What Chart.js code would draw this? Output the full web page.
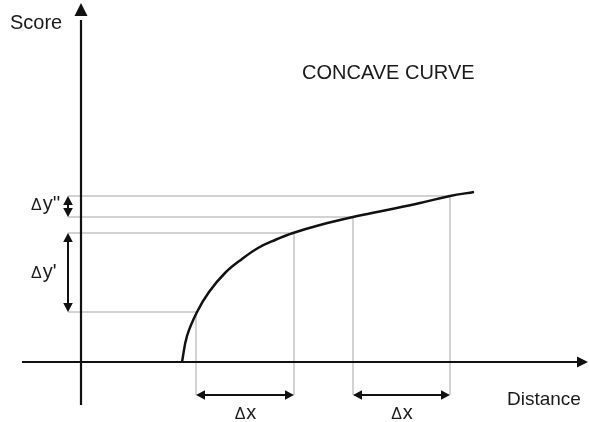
<!DOCTYPE html>
<html>
<head>
<meta charset="utf-8">
<script src="https://cdn.jsdelivr.net/npm/chart.js@4/dist/chart.umd.min.js"></script>
<style>
  html, body { margin: 0; padding: 0; background: #fff; }
  canvas { display: block; }
</style>
</head>
<body>
<canvas id="chart" width="589" height="422"></canvas>
<script>
// curve (distance, score)
const curveX = [10.1, 10.6, 11.6, 12.8, 14.4, 16.1, 17.7, 19.4, 21.2, 23.9, 27.2, 30.6, 33.9, 36.9, 39.3];
const curveY = [0, 2.6, 5.0, 7.0, 8.9, 10.3, 11.4, 12.2, 12.9, 13.7, 14.5, 15.2, 15.9, 16.6, 17.0];

// guide points on the curve
const guideX = [11.5, 21.3, 27.2, 36.9];
const guideY = [5.0, 12.9, 14.5, 16.6];

// where the measuring arrows sit
const dyArrowX = -1.3;
const dxArrowY = -3.3;

const FONT = '"Liberation Sans", Arial, sans-serif';

const curveData = curveX.map((x, i) => ({ x: x, y: curveY[i] }));

// L-shaped grey guides: from the dy arrow to the curve, then down to the dx arrow
const guideSets = guideX.map((gx, i) => ({
    data: [{ x: dyArrowX, y: guideY[i] }, { x: gx, y: guideY[i] }, { x: gx, y: dxArrowY }],
    borderColor: '#c4c4c4',
    borderWidth: 1.5,
    pointRadius: 0,
    showLine: true,
    tension: 0
}));

const arrows = [
    // [x1, y1, x2, y2] double headed
    [dyArrowX, guideY[3], dyArrowX, guideY[2]],
    [dyArrowX, guideY[1], dyArrowX, guideY[0]],
    [guideX[0], dxArrowY, guideX[1], dxArrowY],
    [guideX[2], dxArrowY, guideX[3], dxArrowY]
];

const labels = [
    { parts: [['Score', 20]], x: -7.1, y: 33.3, align: 'left' },
    { parts: [['CONCAVE CURVE', 20]], x: 22.1, y: 28.3, align: 'left' },
    { parts: [['Distance', 19]], x: 42.6, y: -4.3, align: 'left' },
    { parts: [['\u0394', 16], ["y''", 20]], x: -5.0, y: 15.2, align: 'left' },
    { parts: [['\u0394', 16], ["y'", 20]], x: -5.0, y: 8.4, align: 'left' },
    { parts: [['\u0394', 16], ['x', 20]], x: (guideX[0] + guideX[1]) / 2, y: -5.7, align: 'center' },
    { parts: [['\u0394', 16], ['x', 20]], x: (guideX[2] + guideX[3]) / 2, y: -5.7, align: 'center' }
];

function head(ctx, tx, ty, angle, len, hw) {
    ctx.save();
    ctx.translate(tx, ty);
    ctx.rotate(angle);
    ctx.beginPath();
    ctx.moveTo(0, 0);
    ctx.lineTo(-len, -hw);
    ctx.lineTo(-len, hw);
    ctx.closePath();
    ctx.fill();
    ctx.restore();
}

const diagramPlugin = {
    id: 'diagram',
    afterDatasetsDraw(chart) {
        const ctx = chart.ctx;
        const xs = chart.scales.x, ys = chart.scales.y;
        const px = v => xs.getPixelForValue(v), py = v => ys.getPixelForValue(v);
        ctx.save();
        ctx.strokeStyle = '#111';
        ctx.fillStyle = '#111';
        ctx.lineWidth = 2.2;

        // axes
        const ox = px(0), oy = py(0);
        ctx.beginPath();
        ctx.moveTo(ox, py(-4.3));
        ctx.lineTo(ox, py(34.2));
        ctx.moveTo(px(-5.9), oy);
        ctx.lineTo(px(49.7), oy);
        ctx.stroke();
        head(ctx, ox, py(35.9), -Math.PI / 2, 13, 6.5);
        head(ctx, px(50.7), oy, 0, 11, 5.5);

        // measuring arrows
        ctx.lineWidth = 2;
        arrows.forEach(a => {
            const x1 = px(a[0]), y1 = py(a[1]), x2 = px(a[2]), y2 = py(a[3]);
            const ang = Math.atan2(y2 - y1, x2 - x1);
            const L = 9;
            ctx.beginPath();
            ctx.moveTo(x1 + Math.cos(ang) * L * 0.7, y1 + Math.sin(ang) * L * 0.7);
            ctx.lineTo(x2 - Math.cos(ang) * L * 0.7, y2 - Math.sin(ang) * L * 0.7);
            ctx.stroke();
            head(ctx, x2, y2, ang, L, 4.8);
            head(ctx, x1, y1, ang + Math.PI, L, 4.8);
        });

        // text
        ctx.textBaseline = 'alphabetic';
        ctx.fillStyle = '#1a1a1a';
        labels.forEach(l => {
            let w = 0;
            l.parts.forEach(p => { ctx.font = p[1] + 'px ' + FONT; w += ctx.measureText(p[0]).width; });
            let x = px(l.x) - (l.align === 'center' ? w / 2 : 0);
            const y = py(l.y);
            ctx.textAlign = 'left';
            l.parts.forEach(p => {
                ctx.font = p[1] + 'px ' + FONT;
                ctx.fillText(p[0], x, y);
                x += ctx.measureText(p[0]).width + (p[0] === '\u0394' ? 1 : 0);
            });
        });
        ctx.restore();
    }
};

new Chart(document.getElementById('chart').getContext('2d'), {
    type: 'scatter',
    data: {
        datasets: [{
            data: curveData,
            borderColor: '#111',
            borderWidth: 2.5,
            pointRadius: 0,
            showLine: true,
            tension: 0.4
        }].concat(guideSets)
    },
    options: {
        responsive: false,
        animation: false,
        devicePixelRatio: 1,
        layout: { padding: 0 },
        plugins: { legend: { display: false }, tooltip: { enabled: false } },
        scales: {
            x: { type: 'linear', min: -8.1, max: 50.8, display: false },
            y: { type: 'linear', min: -6.0, max: 36.2, display: false }
        }
    },
    plugins: [diagramPlugin]
});
</script>
</body>
</html>
